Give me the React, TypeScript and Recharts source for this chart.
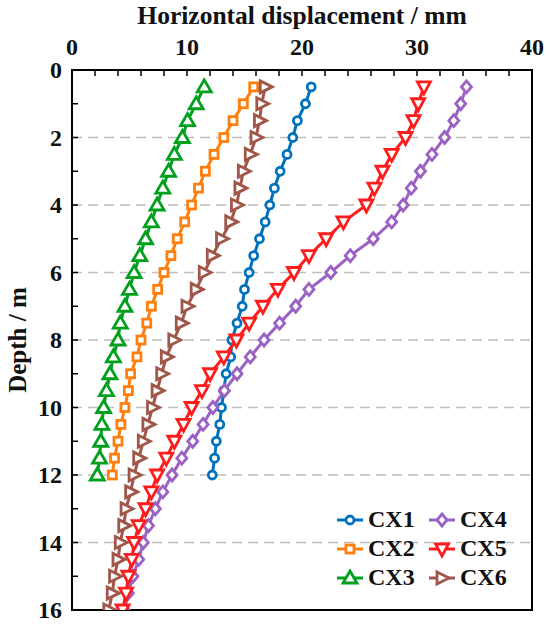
import { CartesianGrid, ReferenceArea, Scatter, ScatterChart, XAxis, YAxis } from "recharts";

const depthShort = [0.5, 1, 1.5, 2, 2.5, 3, 3.5, 4, 4.5, 5, 5.5, 6, 6.5, 7, 7.5, 8, 8.5, 9, 9.5, 10, 10.5, 11, 11.5, 12];
const depthLong = [
  0.5, 1, 1.5, 2, 2.5, 3, 3.5, 4, 4.5, 5, 5.5, 6, 6.5, 7, 7.5, 8, 8.5, 9, 9.5, 10, 10.5, 11, 11.5, 12, 12.5, 13,
  13.5, 14, 14.5, 15, 15.5, 16,
];

const cx1 = [20.8, 20.3, 19.6, 19.2, 18.7, 18.1, 17.6, 17.2, 16.8, 16.3, 15.8, 15.4, 15.0, 14.8, 14.35, 13.9, 13.8, 13.4, 13.2, 13.0, 12.85, 12.55, 12.4, 12.2];
const cx2 = [15.8, 14.9, 14.0, 13.2, 12.35, 11.6, 11.0, 10.4, 9.8, 9.15, 8.6, 8.0, 7.45, 6.9, 6.5, 6.0, 5.65, 5.1, 4.9, 4.6, 4.25, 4.0, 3.7, 3.5];
const cx3 = [11.5, 10.8, 10.05, 9.6, 8.9, 8.4, 7.9, 7.4, 6.9, 6.4, 5.9, 5.4, 5.0, 4.6, 4.2, 4.0, 3.6, 3.3, 3.0, 2.75, 2.6, 2.5, 2.4, 2.2];
const cx4 = [
  34.3, 33.8, 33.2, 32.4, 31.3, 30.3, 29.5, 28.8, 27.8, 26.2, 24.2, 22.5, 20.6, 19.45, 18.05, 16.7, 15.5, 14.35,
  13.25, 12.25, 11.4, 10.5, 9.55, 8.7, 7.9, 7.25, 6.65, 6.2, 5.8, 5.3, 4.9, 4.55,
];
const cx5 = [
  30.6, 30.1, 29.7, 29.0, 27.8, 27.0, 26.3, 25.6, 23.6, 22.1, 20.6, 19.3, 17.9, 16.6, 15.4, 14.3, 13.2, 12.0, 11.3,
  10.4, 9.7, 8.9, 8.2, 7.4, 6.9, 6.4, 5.8, 5.4, 5.2, 4.9, 4.7, 4.4,
];
const cx6 = [
  16.8, 16.5, 16.3, 16.0, 15.5, 14.9, 14.6, 14.3, 13.8, 13.0, 12.2, 11.5, 10.8, 10.0, 9.5, 8.85, 8.2, 7.8, 7.4, 7.0,
  6.6, 6.2, 5.8, 5.4, 5.1, 4.7, 4.5, 4.2, 4.0, 3.7, 3.5, 3.2,
];

const xTicks = [0, 2, 4, 6, 8, 10, 12, 14, 16, 18, 20, 22, 24, 26, 28, 30, 32, 34, 36, 38, 40];
const yTicks = [0, 1, 2, 3, 4, 5, 6, 7, 8, 9, 10, 11, 12, 13, 14, 15, 16];
const gridX = [10, 20, 30];
const gridY = [2, 4, 6, 8, 10, 12, 14];

type Shape = "circle" | "square" | "up" | "diamond" | "down" | "right";

interface Series {
  name: string;
  color: string;
  shape: Shape;
  depths: number[];
  values: number[];
}

const series: Series[] = [
  { name: "CX1", color: "#0072bd", shape: "circle", depths: depthShort, values: cx1 },
  { name: "CX2", color: "#ff7f0e", shape: "square", depths: depthShort, values: cx2 },
  { name: "CX3", color: "#00a01e", shape: "up", depths: depthShort, values: cx3 },
  { name: "CX4", color: "#9b62c4", shape: "diamond", depths: depthLong, values: cx4 },
  { name: "CX5", color: "#ff1c1c", shape: "down", depths: depthLong, values: cx5 },
  { name: "CX6", color: "#a0574a", shape: "right", depths: depthLong, values: cx6 },
];

const FONT = '"Liberation Serif", "Times New Roman", serif';
const TEXT = "#111";

function Marker({ cx, cy, shape, color }: { cx: number; cy: number; shape: Shape; color: string }) {
  const common = { fill: "#fff", stroke: color, strokeWidth: 2.8 };
  if (cx == null || cy == null) return null;
  switch (shape) {
    case "circle":
      return <circle cx={cx} cy={cy} r={4} {...common} />;
    case "square":
      return <rect x={cx - 4} y={cy - 4} width={8} height={8} {...common} />;
    case "up":
      return <polygon points={`${cx},${cy - 7} ${cx + 7},${cy + 5} ${cx - 7},${cy + 5}`} {...common} />;
    case "down":
      return <polygon points={`${cx},${cy + 7} ${cx + 6.5},${cy - 5} ${cx - 6.5},${cy - 5}`} {...common} />;
    case "right":
      return <polygon points={`${cx + 7},${cy} ${cx - 5},${cy - 6} ${cx - 5},${cy + 6}`} {...common} />;
    default:
      return <polygon points={`${cx},${cy - 6} ${cx + 5},${cy} ${cx},${cy + 6} ${cx - 5},${cy}`} {...common} />;
  }
}

function XTick(props: any) {
  const { x, y, payload } = props;
  const v = payload.value;
  return (
    <g>
      <line x1={x} x2={x} y1={y + 15} y2={y + 21} stroke="#000" strokeWidth={1.5} />
      {v % 10 === 0 && (
        <text x={x} y={y} textAnchor="middle" fontFamily={FONT} fontWeight="bold" fontSize={24} fill={TEXT}>
          {v}
        </text>
      )}
    </g>
  );
}

function YTick(props: any) {
  const { x, y, payload } = props;
  const v = payload.value;
  return (
    <g>
      <line x1={x + 10} x2={x + 16} y1={y} y2={y} stroke="#000" strokeWidth={1.5} />
      {v % 2 === 0 && (
        <text
          x={x}
          y={y}
          textAnchor="end"
          dominantBaseline="central"
          fontFamily={FONT}
          fontWeight="bold"
          fontSize={24}
          fill={TEXT}
        >
          {v}
        </text>
      )}
    </g>
  );
}

function XTitle(props: any) {
  const vb = props.viewBox;
  return (
    <text x={vb.x + vb.width / 2} y={vb.y + 24} textAnchor="middle" fontFamily={FONT} fontWeight="bold" fontSize={25.5} fill={TEXT}>
      Horizontal displacement / mm
    </text>
  );
}

function YTitle(props: any) {
  const vb = props.viewBox;
  const x = vb.x + 17;
  const y = vb.y + vb.height / 2;
  return (
    <text
      x={x}
      y={y}
      transform={`rotate(-90, ${x}, ${y})`}
      textAnchor="middle"
      dominantBaseline="central"
      fontFamily={FONT}
      fontWeight="bold"
      fontSize={25}
      fill={TEXT}
    >
      Depth / m
    </text>
  );
}

function LegendBox() {
  return (
    <div
      style={{
        position: "absolute",
        left: 337,
        top: 505,
        display: "grid",
        gridAutoFlow: "column",
        gridTemplateRows: "repeat(3, 29px)",
        gridTemplateColumns: "92px 92px",
        fontFamily: FONT,
        fontWeight: "bold",
        fontSize: 24,
        color: TEXT,
      }}
    >
      {series.map((s) => (
        <div key={s.name} style={{ display: "flex", alignItems: "center", height: 29, lineHeight: "29px" }}>
          <svg width={26} height={20} style={{ marginRight: 5 }}>
            <line x1={0} x2={26} y1={10} y2={10} stroke={s.color} strokeWidth={3} />
            <Marker cx={13} cy={10} shape={s.shape} color={s.color} />
          </svg>
          <span>{s.name}</span>
        </div>
      ))}
    </div>
  );
}

export default function App() {
  return (
    <div style={{ position: "absolute", left: 0, top: 0, width: 550, height: 629, background: "#fff" }}>
      <ScatterChart width={550} height={629} margin={{ top: 0, right: 18, bottom: 19, left: 0 }}>
        <CartesianGrid
          xAxisId="grid"
          yAxisId="grid"
          stroke="#bfbfbf"
          strokeDasharray="10 6"
          strokeWidth={1.5}
        />
        <XAxis
          xAxisId="grid"
          type="number"
          orientation="top"
          domain={[0, 40]}
          ticks={gridX}
          interval={0}
          allowDataOverflow
          hide
        />
        <YAxis
          yAxisId="grid"
          type="number"
          domain={[0, 16]}
          reversed
          ticks={gridY}
          interval={0}
          allowDataOverflow
          hide
        />
        <XAxis
          type="number"
          dataKey="x"
          orientation="top"
          domain={[0, 40]}
          ticks={xTicks}
          interval={0}
          height={70}
          tickSize={0}
          tickMargin={15}
          tickLine={false}
          axisLine={false}
          tick={<XTick />}
          label={XTitle}
          allowDataOverflow
        />
        <YAxis
          type="number"
          dataKey="y"
          domain={[0, 16]}
          reversed
          ticks={yTicks}
          interval={0}
          width={72}
          tickSize={0}
          tickMargin={10}
          tickLine={false}
          axisLine={false}
          tick={<YTick />}
          label={YTitle}
          allowDataOverflow
        />
        {series.map((s) => (
          <Scatter
            key={s.name}
            name={s.name}
            data={s.values.map((v, i) => ({ x: v, y: s.depths[i] }))}
            line={{ stroke: s.color, strokeWidth: 3 }}
            lineType="joint"
            shape={(p: any) => <Marker cx={p.cx} cy={p.cy} shape={s.shape} color={s.color} />}
            isAnimationActive={false}
          />
        ))}
        <ReferenceArea x1={0} x2={40} y1={0} y2={16} fill="none" stroke="#000" strokeWidth={2} />
      </ScatterChart>
      <LegendBox />
    </div>
  );
}
